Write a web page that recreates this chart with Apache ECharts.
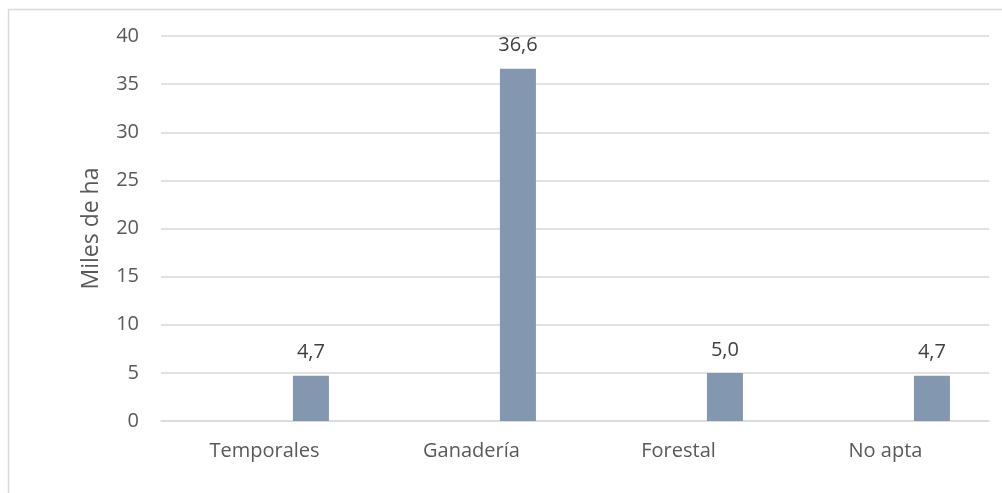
<!DOCTYPE html>
<html>
<head>
<meta charset="utf-8">
<script src="https://cdn.jsdelivr.net/npm/echarts@6/dist/echarts.min.js"></script>
<style>
  html, body { margin: 0; padding: 0; background: #ffffff; }
  #chart { width: 1002px; height: 493px; }
</style>
</head>
<body>
<div id="chart"></div>
<script>
// Superficie por aptitud de uso del suelo (miles de ha)
const categories = ['Temporales', 'Ganadería', 'Forestal', 'No apta'];
const superficie = [4.7, 36.6, 5.0, 4.7];
const yTicks = { min: 0, max: 40, interval: 5 };
const axisTitle = 'Miles de ha';

const fontFamily = '"Open Sans", "Noto Sans", sans-serif';
const chart = echarts.init(document.getElementById('chart'), null, { renderer: 'canvas' });

chart.setOption({
  animation: false,
  backgroundColor: '#ffffff',
  graphic: [{
    type: 'rect',
    shape: { x: 8.5, y: 9.5, width: 1010, height: 500 },
    style: { fill: 'none', stroke: '#d9d9d9', lineWidth: 1.5 },
    silent: true
  }],
  grid: { left: 161, right: 13, top: 36, bottom: 72, containLabel: false },
  xAxis: {
    type: 'category',
    data: categories,
    axisLine: { show: true, lineStyle: { color: '#d9d9d9', width: 1.5 } },
    axisTick: { show: false },
    axisLabel: { color: '#595959', fontSize: 20, fontFamily: fontFamily, margin: 20 }
  },
  yAxis: {
    type: 'value',
    min: yTicks.min,
    max: yTicks.max,
    interval: yTicks.interval,
    name: axisTitle,
    nameLocation: 'middle',
    nameGap: 58,
    nameRotate: 90,
    nameTextStyle: { color: '#595959', fontSize: 23, fontFamily: fontFamily },
    axisLine: { show: false },
    axisTick: { show: false },
    axisLabel: { color: '#595959', fontSize: 20, fontFamily: fontFamily, margin: 22 },
    splitLine: { lineStyle: { color: '#d9d9d9', width: 1.5 } }
  },
  series: [
    {
      // empty companion series that keeps its slot to the left of each bar
      name: 'vacío',
      type: 'bar',
      data: categories.map(() => '-'),
      barWidth: 36,
      barGap: '158%'
    },
    {
      name: 'Superficie',
      type: 'bar',
      data: superficie,
      barWidth: 36,
      barGap: '158%',
      itemStyle: { color: '#8497b0' },
      label: {
        show: true,
        position: 'top',
        distance: 13,
        color: '#404040',
        fontSize: 20,
        fontFamily: fontFamily,
        formatter: p => p.value.toFixed(1).replace('.', ',')
      }
    }
  ]
});
</script>
</body>
</html>
